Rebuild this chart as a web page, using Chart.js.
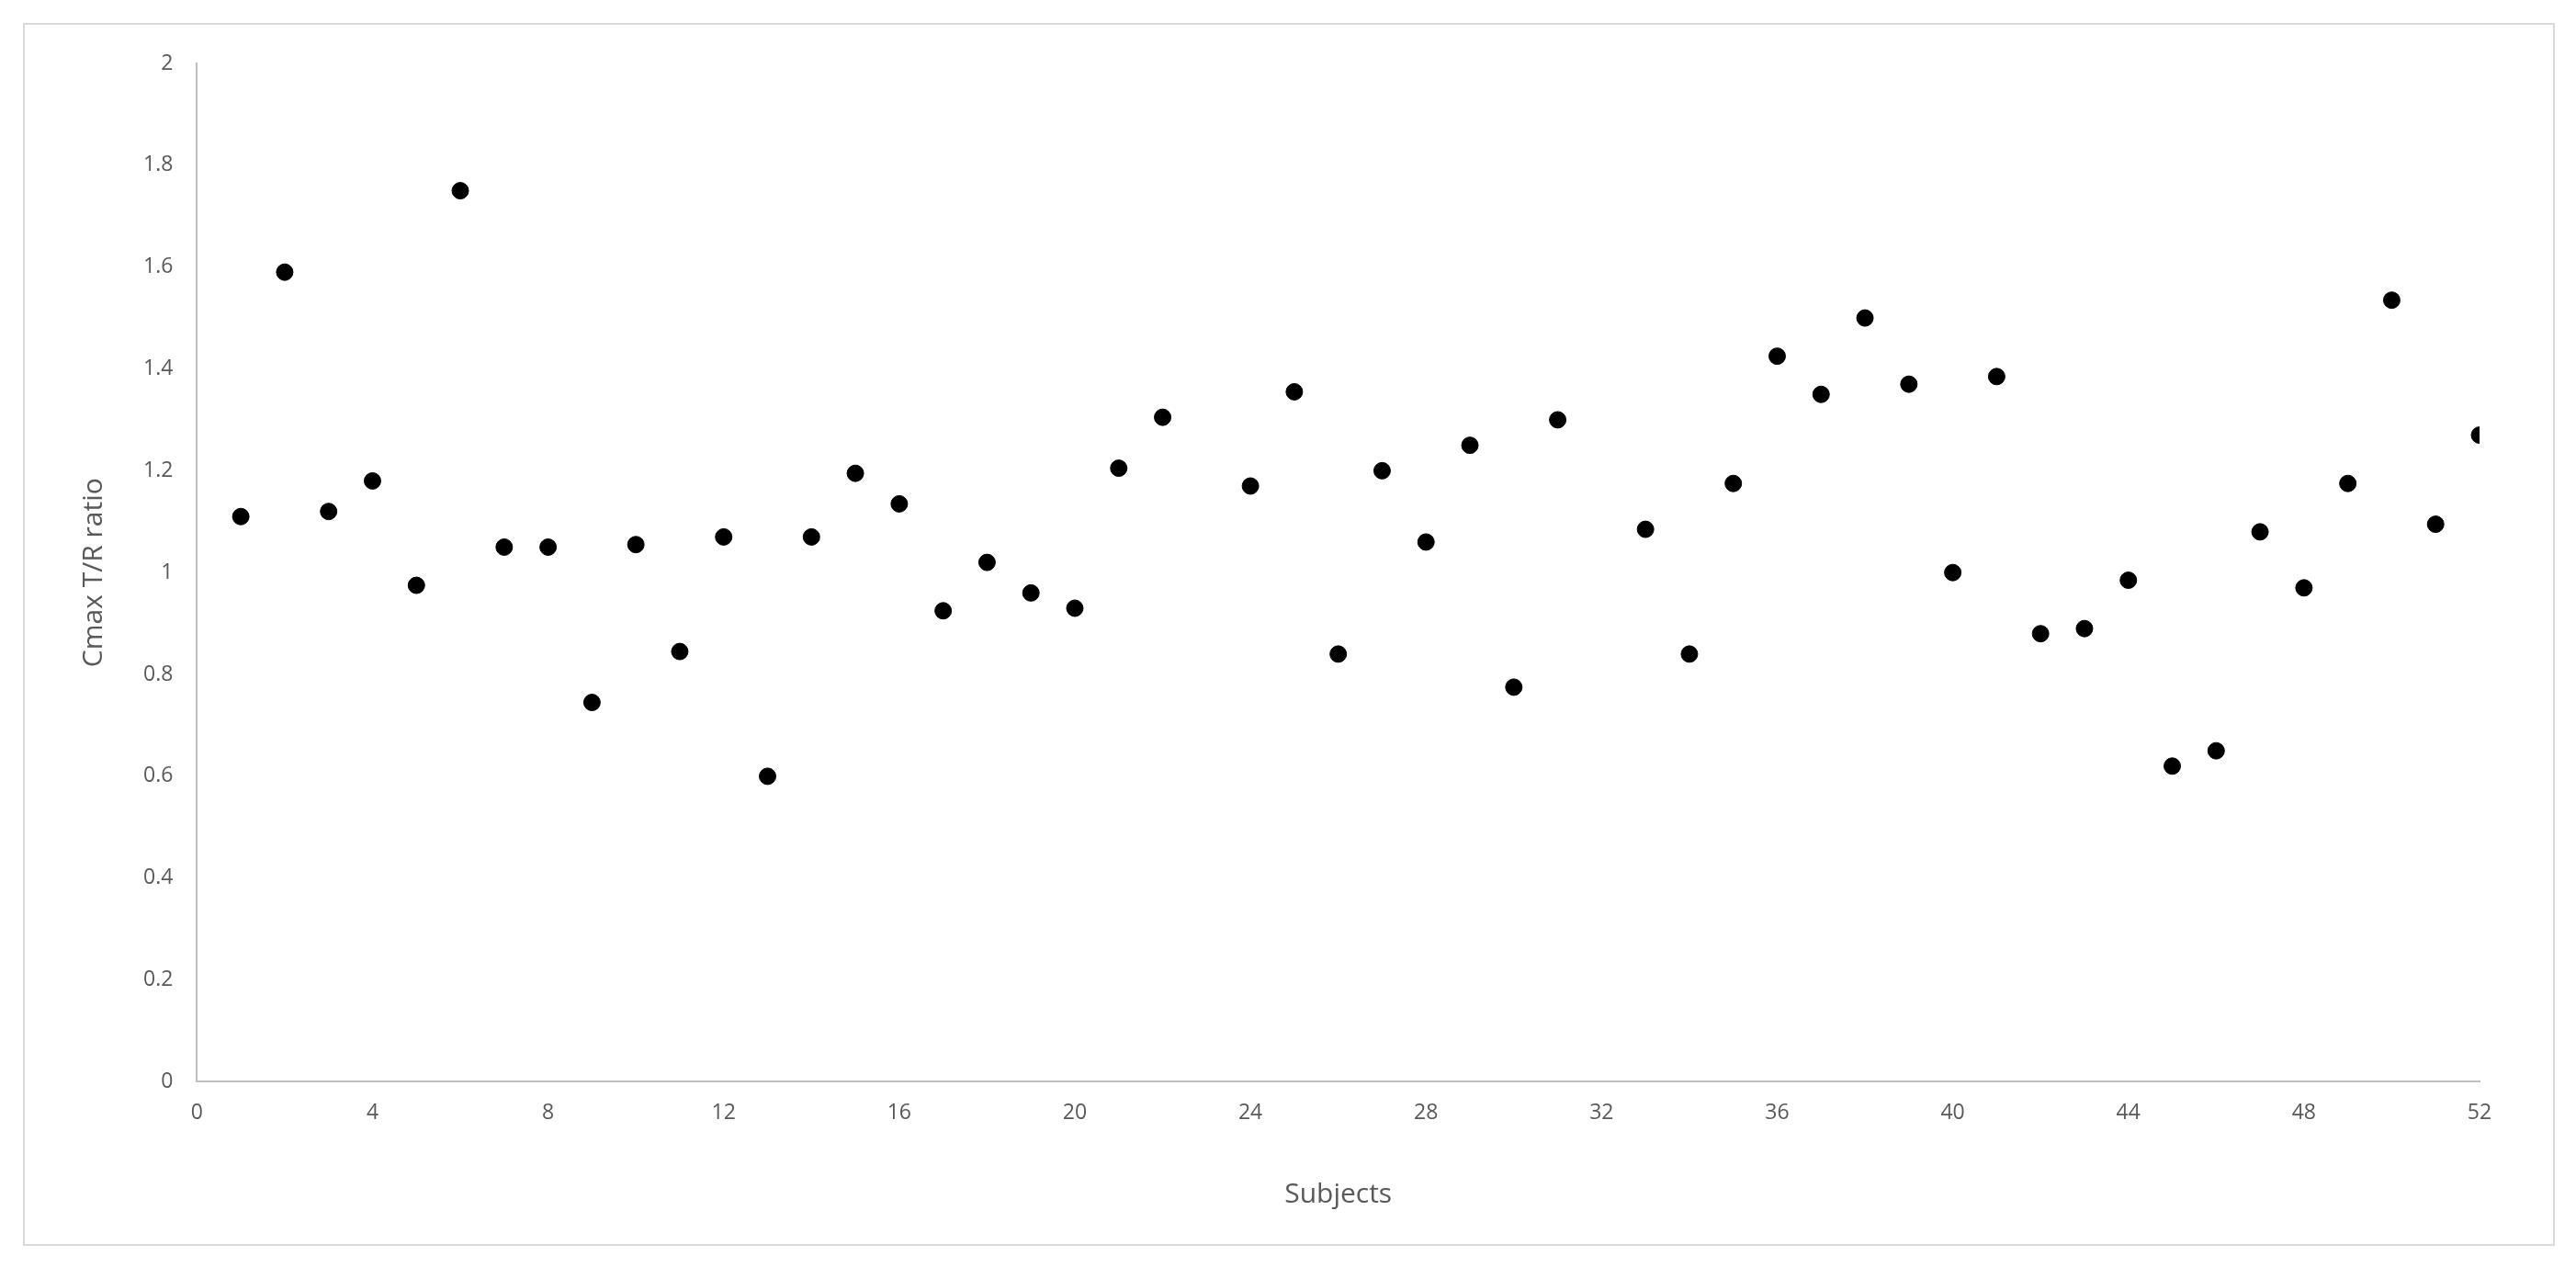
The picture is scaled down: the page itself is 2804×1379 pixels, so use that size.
<!DOCTYPE html>
<html>
<head>
<meta charset="utf-8">
<script src="https://cdn.jsdelivr.net/npm/chart.js@4.4.1/dist/chart.umd.min.js"></script>
<style>
  html, body { margin: 0; padding: 0; background: #fff; }
  #frame { position: absolute; left: 25px; top: 25px; width: 2752px; height: 1327px; border: 2px solid #d9d9d9; }
  #wrap { position: absolute; left: 0; top: 0; width: 2804px; height: 1379px; }
</style>
</head>
<body>
<div id="frame"></div>
<div id="wrap"><canvas id="chart"></canvas></div>
<script>
// Subjects (x) and Cmax T/R ratio (y); subjects 23 and 32 have no value
const subjects = [1,2,3,4,5,6,7,8,9,10,11,12,13,14,15,16,17,18,19,20,21,22,24,25,26,27,28,29,30,31,33,34,35,36,37,38,39,40,41,42,43,44,45,46,47,48,49,50,51,52];
const ratios = [1.11,1.59,1.12,1.18,0.975,1.75,1.05,1.05,0.745,1.055,0.845,1.07,0.60,1.07,1.195,1.135,0.925,1.02,0.96,0.93,1.205,1.305,1.17,1.355,0.84,1.20,1.06,1.25,0.775,1.30,1.085,0.84,1.175,1.425,1.35,1.50,1.37,1.00,1.385,0.88,0.89,0.985,0.62,0.65,1.08,0.97,1.175,1.535,1.095,1.27];

const tickColor = '#595959';
const fontFamily = "'Open Sans', 'Liberation Sans', sans-serif";

new Chart(document.getElementById('chart'), {
  type: 'scatter',
  data: {
    datasets: [{
      data: subjects.map((s, i) => ({ x: s, y: ratios[i] })),
      backgroundColor: '#000',
      borderColor: '#000',
      pointRadius: 9
    }]
  },
  options: {
    responsive: true,
    maintainAspectRatio: false,
    animation: false,
    layout: { padding: { left: 80, right: 105, top: 69, bottom: 57 } },
    plugins: { legend: { display: false }, tooltip: { enabled: false } },
    scales: {
      x: {
        min: 0, max: 52,
        ticks: { stepSize: 4, color: tickColor, font: { family: fontFamily, size: 23 }, padding: 12 },
        grid: { display: false },
        border: { color: '#bfbfbf', width: 2 },
        title: { display: true, text: 'Subjects', color: tickColor, font: { family: fontFamily, size: 30 }, padding: { top: 45 } }
      },
      y: {
        min: 0, max: 2,
        ticks: {
          stepSize: 0.2, color: tickColor, font: { family: fontFamily, size: 23 }, padding: 18,
          callback: v => String(Math.round(v * 10) / 10)
        },
        grid: { display: false },
        border: { color: '#bfbfbf', width: 2 },
        title: { display: true, text: 'Cmax T/R ratio', color: tickColor, font: { family: fontFamily, size: 30 }, padding: { bottom: 18 } }
      }
    }
  }
});
</script>
</body>
</html>
